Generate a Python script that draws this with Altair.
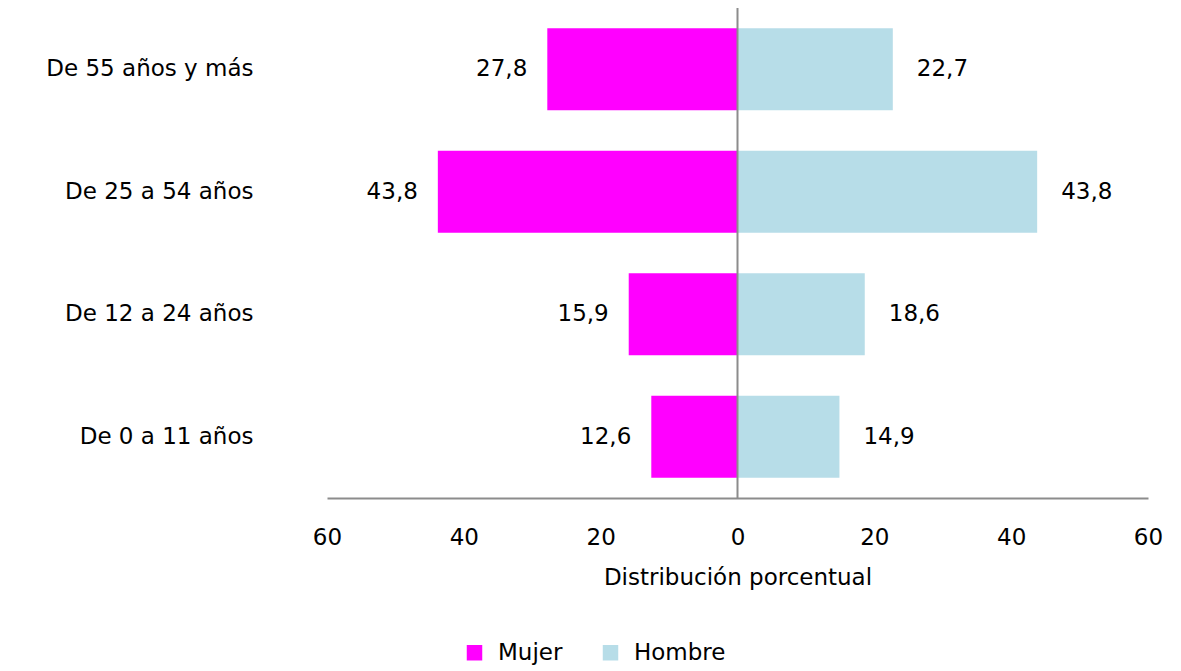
import altair as alt
import pandas as pd

grupos = ["De 55 años y más", "De 25 a 54 años", "De 12 a 24 años", "De 0 a 11 años"]
mujer = [27.8, 43.8, 15.9, 12.6]
hombre = [22.7, 43.8, 18.6, 14.9]
sexos = ["Mujer", "Hombre"]
ticks = [-60, -40, -20, 0, 20, 40, 60]

rows = []
for g, m, h in zip(grupos, mujer, hombre):
    rows.append({"grupo": g, "sexo": "Mujer", "valor": -m, "etiqueta": f"{m:.1f}".replace(".", ",")})
    rows.append({"grupo": g, "sexo": "Hombre", "valor": h, "etiqueta": f"{h:.1f}".replace(".", ",")})
df = pd.DataFrame(rows)

FONT = "DejaVu Sans"
FS = 23

y = alt.Y("grupo:N", sort=grupos, title=None,
          scale=alt.Scale(paddingInner=0.33, paddingOuter=0.165),
          axis=alt.Axis(domain=False, ticks=False, labelPadding=74, labelFontSize=FS,
                        labelColor="black", labelFont=FONT, labelLimit=400))

x = alt.X("valor:Q", title="Distribución porcentual",
          scale=alt.Scale(domain=[-60, 60], nice=False),
          axis=alt.Axis(values=ticks, labelExpr="abs(datum.value)", grid=False, ticks=False,
                        domainColor="#8c8c8c", domainWidth=2, labelPadding=28,
                        labelFlush=False,
                        labelFontSize=FS, labelColor="black", labelFont=FONT,
                        titleFontSize=FS, titleFontWeight="normal", titleColor="black",
                        titleFont=FONT, titlePadding=17))

color = alt.Color("sexo:N", scale=alt.Scale(domain=sexos, range=["#FF00FF", "#B7DDE8"]),
                  title=None,
                  legend=alt.Legend(orient="none", legendX=136, legendY=633, direction="horizontal",
                                    symbolType="square", symbolSize=240, symbolStrokeWidth=0,
                                    labelFontSize=FS, labelFont=FONT, labelColor="black",
                                    columnPadding=36, labelOffset=12))

base = alt.Chart(df)
bars = base.mark_bar().encode(x=x, y=y, color=color)

lab_m = base.transform_filter(alt.datum.sexo == "Mujer").mark_text(
    align="right", dx=-20, fontSize=FS, font=FONT, color="black").encode(
    x="valor:Q", y=alt.Y("grupo:N", sort=grupos), text="etiqueta:N")
lab_h = base.transform_filter(alt.datum.sexo == "Hombre").mark_text(
    align="left", dx=24, fontSize=FS, font=FONT, color="black").encode(
    x="valor:Q", y=alt.Y("grupo:N", sort=grupos), text="etiqueta:N")

rule = alt.Chart(pd.DataFrame({"cero": [0]})).mark_rule(color="#8c8c8c", strokeWidth=2).encode(
    x="cero:Q")

chart = alt.layer(bars, rule, lab_m, lab_h).properties(
    width=821, height=490,
    autosize=alt.AutoSizeParams(type="none"),
    padding={"left": 319, "top": 0, "right": 25, "bottom": 172},
).configure_view(stroke=None)

chart.save("out.html", embed_options={"renderer": "svg", "actions": False})
